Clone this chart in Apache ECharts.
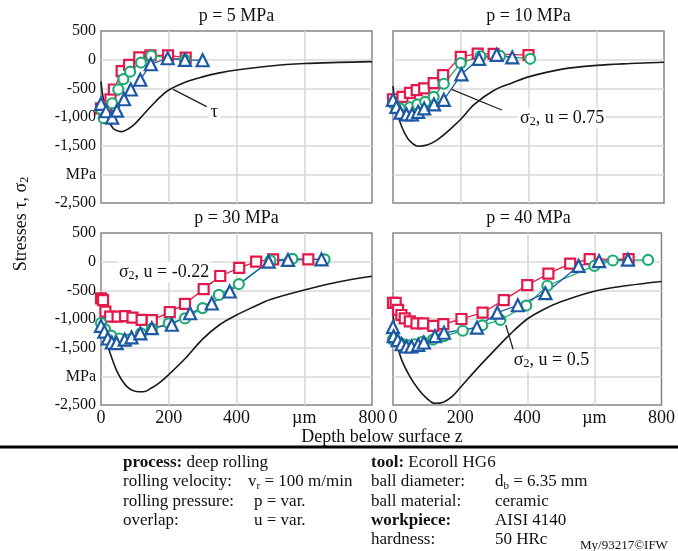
<!DOCTYPE html>
<html><head><meta charset="utf-8">
<script src="https://cdn.jsdelivr.net/npm/echarts@6/dist/echarts.min.js"></script>
<style>html,body{margin:0;padding:0;background:#fff}#c{width:678px;height:551px}</style>
</head><body><div id="c"></div><script>
// ---------- tick labels ----------
const yTickValues = [500, 0, -500, -1000, -1500, -2000, -2500];
const yTickLabels = ['500', '0', '-500', '-1,000', '-1,500', 'MPa', '-2,500'];
const xTickValues = [0, 200, 400, 600, 800];
const xTickLabels = ['0', '200', '400', 'µm', '800'];
const panelTitles = ['p = 5 MPa', 'p = 10 MPa', 'p = 30 MPa', 'p = 40 MPa'];

// ---------- p = 5 MPa ----------
const p5RedDepth = [0, 15, 28, 38, 61, 83, 113, 146, 198, 250];
const p5RedStress = [-850, -800, -690, -520, -200, -90, 40, 75, 75, 35];
const p5GreenDepth = [0, 8, 33, 51, 66, 86, 118, 148, 248];
const p5GreenStress = [-860, -1020, -760, -520, -340, -210, -50, 70, -5];
const p5BlueDepth = [0, 15, 33, 47, 68, 88, 116, 147, 197, 248, 300];
const p5BlueStress = [-770, -900, -1010, -890, -690, -520, -350, -80, 25, -5, -10];
const p5TauDepth = [0, 5, 12, 22, 36, 50, 61, 80, 100, 125, 150, 175, 200, 250, 300, 350, 400, 500, 600, 700, 800];
const p5TauStress = [-380, -620, -820, -1050, -1200, -1245, -1255, -1210, -1120, -960, -800, -650, -530, -390, -300, -230, -180, -110, -68, -48, -35];

// ---------- p = 10 MPa ----------
const p10RedDepth = [0, 12, 28, 50, 70, 92, 120, 148, 200, 250, 297, 400];
const p10RedStress = [-690, -750, -650, -580, -530, -500, -410, -270, 50, 105, 100, 80];
const p10GreenDepth = [0, 20, 50, 72, 95, 120, 150, 200, 258, 316, 405];
const p10GreenStress = [-760, -850, -830, -780, -735, -650, -420, -60, 60, 65, 15];
const p10BlueDepth = [0, 10, 22, 40, 56, 74, 92, 121, 150, 202, 254, 306, 352];
const p10BlueStress = [-700, -825, -925, -955, -955, -910, -850, -780, -700, -255, 15, 85, 40];
const p10TauDepth = [0, 5, 10, 20, 35, 50, 75, 100, 125, 150, 175, 200, 240, 300, 350, 400, 500, 600, 700, 800];
const p10TauStress = [-460, -700, -860, -1080, -1290, -1420, -1510, -1490, -1420, -1310, -1180, -1040, -780, -530, -410, -300, -165, -100, -68, -46];

// ---------- p = 30 MPa ----------
const p30RedDepth = [0, 6, 13, 27, 49, 71, 93, 120, 150, 203, 248, 303, 352, 408, 458, 508, 612];
const p30RedStress = [-640, -670, -870, -960, -960, -950, -975, -1015, -1020, -880, -735, -480, -250, -110, 0, 40, 40];
const p30GreenDepth = [0, 12, 30, 55, 80, 118, 150, 200, 248, 300, 348, 407, 500, 565, 660];
const p30GreenStress = [-1070, -1180, -1290, -1340, -1360, -1250, -1170, -1075, -990, -810, -580, -390, 20, 50, 40];
const p30BlueDepth = [0, 10, 20, 32, 46, 70, 90, 116, 150, 209, 263, 327, 380, 495, 552, 651];
const p30BlueStress = [-1120, -1220, -1340, -1410, -1420, -1360, -1320, -1250, -1160, -1100, -900, -730, -520, 0, 30, 40];
const p30TauDepth = [0, 5, 10, 25, 50, 75, 100, 125, 150, 175, 200, 250, 300, 350, 400, 450, 500, 600, 700, 800];
const p30TauStress = [-750, -1000, -1250, -1560, -1950, -2170, -2260, -2270, -2200, -2100, -1970, -1680, -1350, -1100, -930, -790, -660, -495, -355, -255];

// ---------- p = 40 MPa ----------
const p40RedDepth = [0, 8, 15, 25, 35, 50, 70, 90, 120, 150, 204, 267, 330, 400, 463, 528, 586, 702];
const p40RedStress = [-720, -720, -840, -930, -990, -1040, -1075, -1075, -1120, -1090, -1000, -890, -670, -410, -210, -35, 45, 45];
const p40GreenDepth = [0, 12, 25, 45, 65, 88, 119, 152, 208, 266, 320, 397, 460, 600, 655, 760];
const p40GreenStress = [-1360, -1390, -1430, -1460, -1440, -1400, -1360, -1300, -1205, -1110, -1017, -765, -420, -75, 20, 30];
const p40BlueDepth = [0, 2, 14, 26, 40, 55, 75, 92, 125, 152, 250, 311, 372, 454, 553, 614, 700];
const p40BlueStress = [-1140, -1300, -1370, -1440, -1480, -1480, -1450, -1410, -1300, -1240, -1150, -890, -760, -550, -75, 10, 35];
const p40TauDepth = [0, 5, 10, 25, 50, 75, 100, 125, 150, 175, 200, 250, 300, 350, 400, 450, 500, 600, 700, 800];
const p40TauStress = [-920, -1150, -1380, -1700, -2000, -2220, -2380, -2470, -2450, -2360, -2200, -1870, -1560, -1260, -1000, -830, -700, -515, -415, -345];

// ---------- annotations (data coordinates) ----------
const annotTexts = ['τ', 'σ2, u = 0.75', 'σ2, u = -0.22', 'σ2, u = 0.5'];
const annotLabelAt = [[318, -915], [369, -1017], [47, -180], [354, -1715]];
const annotLeaders = [[[213, -517], [312, -820]], [[173, -517], [321, -878]], [[312, -273], [327, -377]], [[336, -1104], [358, -1530]]];

// ---------- styling ----------
const FONT = '"Liberation Serif", "Times New Roman", serif';
const RED = '#e3194b', GREEN = '#1faa74', BLUE = '#1c58a4', TAU = '#1a1a1a';
const boxes = [[101, 31], [393, 31], [101, 233], [393, 233]];
const W = 271, H = 172;

const panels = [
  [p5RedDepth, p5RedStress, p5GreenDepth, p5GreenStress, p5BlueDepth, p5BlueStress, p5TauDepth, p5TauStress],
  [p10RedDepth, p10RedStress, p10GreenDepth, p10GreenStress, p10BlueDepth, p10BlueStress, p10TauDepth, p10TauStress],
  [p30RedDepth, p30RedStress, p30GreenDepth, p30GreenStress, p30BlueDepth, p30BlueStress, p30TauDepth, p30TauStress],
  [p40RedDepth, p40RedStress, p40GreenDepth, p40GreenStress, p40BlueDepth, p40BlueStress, p40TauDepth, p40TauStress]
];

const zip = (a, b) => a.map((v, i) => [v, b[i]]);
const richSub = {
  a: { fontFamily: FONT, fontSize: 18, color: '#111' },
  s: { fontFamily: FONT, fontSize: 12, color: '#111', verticalAlign: 'bottom', padding: [7, 0, 0, 0] }
};
function richText(t) {
  if (t.startsWith('σ2')) return '{a|σ}{s|2}{a|' + t.slice(2) + '}';
  return '{a|' + t + '}';
}

const grid = [], xAxis = [], yAxis = [], series = [];
boxes.forEach((b, i) => {
  grid.push({ left: b[0], top: b[1], width: W, height: H, show: true, borderColor: '#858585', borderWidth: 1.5, backgroundColor: '#fff' });
  xAxis.push({
    gridIndex: i, type: 'value', min: 0, max: 800, interval: 200,
    axisLine: { show: false }, axisTick: { show: false },
    splitLine: { show: true, showMinLine: false, showMaxLine: false, lineStyle: { color: '#d9d9d9', width: 1.6 } },
    axisLabel: {
      show: i >= 2, margin: 4, fontFamily: FONT, fontSize: 18, color: '#111',
      formatter: v => xTickLabels[xTickValues.indexOf(v)]
    }
  });
  yAxis.push({
    gridIndex: i, type: 'value', min: -2500, max: 500, interval: 500,
    axisLine: { show: false }, axisTick: { show: false },
    splitLine: { show: true, showMinLine: false, showMaxLine: false, lineStyle: { color: '#d9d9d9', width: 1.6 } },
    axisLabel: {
      show: i % 2 === 0, margin: 5, fontFamily: FONT, fontSize: 16, color: '#111',
      formatter: v => yTickLabels[yTickValues.indexOf(v)]
    }
  });
  const d = panels[i];
  series.push({
    type: 'line', xAxisIndex: i, yAxisIndex: i, data: zip(d[6], d[7]),
    smooth: 0.35, symbol: 'none', lineStyle: { color: TAU, width: 1.6 }, z: 2, silent: true,
    markLine: {
      silent: true, symbol: ['none', 'none'], label: { show: false },
      lineStyle: { color: '#222', width: 1.3, type: 'solid' },
      data: [[{ coord: annotLeaders[i][0] }, { coord: annotLeaders[i][1] }]]
    },
    markPoint: {
      silent: true, symbol: 'rect', symbolSize: 1, itemStyle: { color: 'rgba(0,0,0,0)' },
      label: {
        show: true, position: 'inside', align: 'left', verticalAlign: 'middle',
        backgroundColor: '#fff', padding: [1, 2, 1, 2],
        formatter: () => richText(annotTexts[i]), rich: richSub
      },
      data: [{ coord: annotLabelAt[i] }]
    }
  });
  const mk = (dx, dy, color, symbol, size) => ({
    type: 'line', xAxisIndex: i, yAxisIndex: i, data: zip(dx, dy),
    symbol: symbol, symbolSize: size, showSymbol: true,
    lineStyle: { color: color, width: 1.3 },
    itemStyle: { color: '#fff', borderColor: color, borderWidth: 2.2 }, z: 3
  });
  series.push(mk(d[0], d[1], RED, 'rect', 10));
  series.push(mk(d[2], d[3], GREEN, 'circle', 10));
  series.push(mk(d[4], d[5], BLUE, 'triangle', 12));
});

// ---------- text graphics ----------
const txt = (x, y, text, opts = {}) => Object.assign({
  type: 'text', x: x, y: y,
  style: Object.assign({ text: text, fontFamily: FONT, fontSize: 17, fill: '#111', verticalAlign: 'middle', align: 'left' }, opts.style || {})
}, opts.el || {});
const bRich = {
  b: { fontFamily: FONT, fontSize: 17, fontWeight: 'bold', fill: '#111' },
  n: { fontFamily: FONT, fontSize: 17, fill: '#111' },
  s: { fontFamily: FONT, fontSize: 11, fill: '#111', verticalAlign: 'bottom', padding: [8, 0, 0, 0] }
};

const graphic = [];
panelTitles.forEach((t, i) => {
  graphic.push(txt(boxes[i][0] + W / 2, boxes[i][1] - 15, t, { style: { fontSize: 18, align: 'center' } }));
});
graphic.push(txt(382, 437, 'Depth below surface z', { style: { fontSize: 18, align: 'center' } }));
graphic.push({
  type: 'text', x: 21, y: 224, rotation: Math.PI / 2,
  style: {
    text: '{n|Stresses τ, σ}{s|2}', align: 'center', verticalAlign: 'middle',
    rich: {
      n: { fontFamily: FONT, fontSize: 18, fill: '#111' },
      s: { fontFamily: FONT, fontSize: 12, fill: '#111', verticalAlign: 'bottom', padding: [8, 0, 0, 0] }
    }
  }
});
graphic.push({ type: 'line', shape: { x1: 0, y1: 447, x2: 678, y2: 447 }, style: { stroke: '#000', lineWidth: 3 } });

const rows = [463, 482, 502, 521, 540];
graphic.push(txt(123, rows[0], '{b|process:}{n| deep rolling}', { style: { rich: bRich } }));
graphic.push(txt(123, rows[1], 'rolling velocity:'));
graphic.push(txt(248, rows[1], '{n|v}{s|r}{n| = 100 m/min}', { style: { rich: bRich } }));
graphic.push(txt(123, rows[2], 'rolling pressure:'));
graphic.push(txt(254, rows[2], 'p = var.'));
graphic.push(txt(123, rows[3], 'overlap:'));
graphic.push(txt(254, rows[3], 'u = var.'));
graphic.push(txt(371, rows[0], '{b|tool:}{n| Ecoroll HG6}', { style: { rich: bRich } }));
graphic.push(txt(371, rows[1], 'ball diameter:'));
graphic.push(txt(495, rows[1], '{n|d}{s|b}{n| = 6.35 mm}', { style: { rich: bRich } }));
graphic.push(txt(371, rows[2], 'ball material:'));
graphic.push(txt(495, rows[2], 'ceramic'));
graphic.push(txt(371, rows[3], '{b|workpiece:}', { style: { rich: bRich } }));
graphic.push(txt(495, rows[3], 'AISI 4140'));
graphic.push(txt(371, rows[4], 'hardness:'));
graphic.push(txt(495, rows[4], '50 HRc'));
graphic.push(txt(580, 546, 'My/93217©IFW', { style: { fontSize: 13 } }));

const chart = echarts.init(document.getElementById('c'), null, { renderer: 'canvas' });
chart.setOption({
  backgroundColor: '#fff',
  animation: false,
  grid: grid, xAxis: xAxis, yAxis: yAxis, series: series, graphic: graphic
});
</script></body></html>
